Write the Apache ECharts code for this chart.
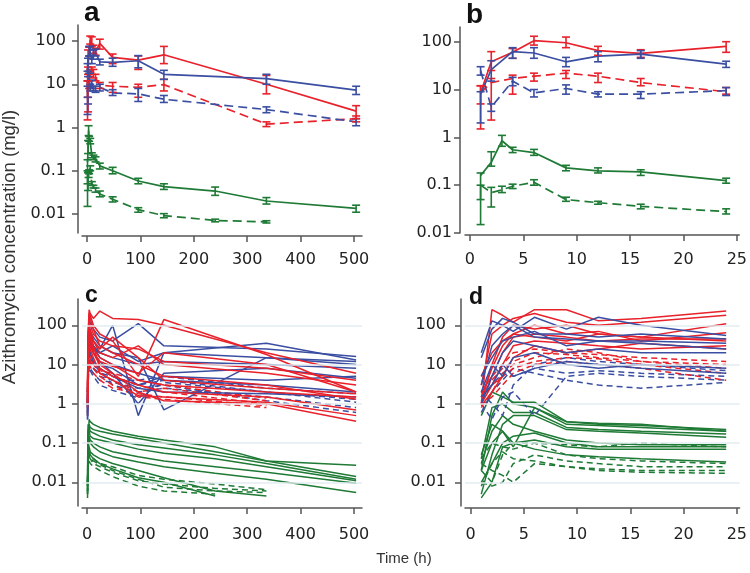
<!DOCTYPE html>
<html><head><meta charset="utf-8">
<script src="https://cdn.jsdelivr.net/npm/echarts@6/dist/echarts.min.js"></script>
<style>html,body{margin:0;padding:0;background:#fff}#c{width:750px;height:573px}</style>
</head><body><div id="c"></div>
<script>
// ---------- tick labels ----------
const logTicks = [0.01, 0.1, 1, 10, 100];
const logTickText = ['0.01', '0.1', '1', '10', '100'];
const xTicksLong = [0, 100, 200, 300, 400, 500];
const xTicksShort = [0, 5, 10, 15, 20, 25];
const panelLetters = ['a', 'b', 'c', 'd'];
const yTitle = 'Azithromycin concentration (mg/l)';
const xTitle = 'Time (h)';

// ---------- panel a : means with error bars (0-504 h) ----------
const aTimeRB = [1, 2, 4, 6, 9, 12, 16, 24, 48, 96, 144, 336, 504];
const aTimeG = [1, 2, 3, 4, 6, 9, 12, 16, 24, 48, 96, 144, 240, 336, 504];
const aTimeGd = [1, 2, 3, 4, 6, 9, 12, 16, 24, 48, 96, 144, 240, 336];
const aRedSolid = [8.5, 38, 60, 105, 95, 65, 57, 88, 42, 36, 48, 10, 2.4];
const aRedSolidLo = [1.5, 25, 45, 85, 75, 52, 47, 65, 30, 22, 30, 6, 1.6];
const aRedSolidHi = [12, 62, 72, 130, 125, 80, 68, 110, 50, 45, 75, 16, 3.2];
const aBlueSolid = [8, 26, 62, 58, 38, 50, 55, 33, 32, 35, 17, 13.5, 7.3];
const aBlueSolidLo = [2, 15, 45, 45, 30, 38, 45, 28, 26, 24, 13, 10, 5.8];
const aBlueSolidHi = [9, 40, 75, 75, 47, 62, 65, 38, 40, 46, 21, 17, 9];
const aRedDash = [8.5, 14, 17, 19, 22, 19, 14, 9.5, 9, 8.5, 9.8, 1.2, 1.6];
const aRedDashLo = [5, 2.3, 8, 15, 17, 14, 12, 8, 6.5, 5, 7, 1.05, 1.35];
const aRedDashHi = [12, 17, 20, 22, 25, 22, 17, 11, 11, 10, 13, 1.35, 1.85];
const aBlueDash = [25, 4.3, 15, 8.5, 10.5, 8, 8, 8.5, 6.3, 6, 4.5, 2.6, 1.35];
const aBlueDashLo = [20, 3.5, 12, 7, 8, 7, 6.5, 7, 5.5, 4, 3.8, 2.2, 1.1];
const aBlueDashHi = [30, 5, 18, 10, 12.5, 9, 9, 10, 7.5, 8, 5.5, 3, 1.6];
const aGreenSolid = [0.16, 0.3, 0.85, 0.55, 0.48, 0.23, 0.2, 0.19, 0.13, 0.1, 0.058, 0.043, 0.034, 0.02, 0.0135];
const aGreenSolidLo = [0.05, 0.25, 0.65, 0.48, 0.42, 0.2, 0.18, 0.16, 0.11, 0.085, 0.05, 0.037, 0.027, 0.017, 0.011];
const aGreenSolidHi = [0.18, 0.5, 1.1, 0.62, 0.56, 0.26, 0.23, 0.21, 0.15, 0.12, 0.067, 0.05, 0.042, 0.024, 0.016];
const aGreenDash = [0.1, 0.07, 0.08, 0.095, 0.115, 0.05, 0.043, 0.036, 0.029, 0.022, 0.0126, 0.0092, 0.0071, 0.0066];
const aGreenDashLo = [0.015, 0.035, 0.07, 0.085, 0.1, 0.046, 0.04, 0.032, 0.025, 0.019, 0.011, 0.0082, 0.0066, 0.0062];
const aGreenDashHi = [0.1, 0.09, 0.095, 0.105, 0.13, 0.056, 0.046, 0.04, 0.034, 0.025, 0.014, 0.0102, 0.0076, 0.007];

// ---------- panel b : means with error bars (0-24 h) ----------
const bTimeRB = [1, 2, 4, 6, 9, 12, 16, 24];
const bTimeG = [1, 2, 3, 4, 6, 9, 12, 16, 24];
const bRedSolid = [8.5, 38, 60, 105, 95, 65, 57, 80];
const bRedSolidLo = [1.5, 25, 45, 85, 75, 52, 47, 60];
const bRedSolidHi = [12, 62, 72, 130, 125, 80, 68, 100];
const bBlueSolid = [8, 26, 62, 58, 38, 50, 55, 34];
const bBlueSolidLo = [2, 15, 45, 45, 30, 38, 45, 29];
const bBlueSolidHi = [9, 40, 75, 75, 47, 62, 65, 39];
const bRedDash = [8.5, 14, 17, 19, 22, 19, 14, 9];
const bRedDashLo = [5, 2.3, 8, 15, 17, 14, 12, 8];
const bRedDashHi = [12, 17, 20, 22, 25, 22, 17, 11];
const bBlueDash = [25, 4.3, 15, 8.5, 10.5, 8, 8, 9.5];
const bBlueDashLo = [20, 3.5, 12, 7, 8, 7, 6.5, 7.5];
const bBlueDashHi = [30, 5, 18, 10, 12.5, 9, 9, 11];
const bGreenSolid = [0.16, 0.3, 0.85, 0.55, 0.48, 0.23, 0.2, 0.19, 0.125];
const bGreenSolidLo = [0.05, 0.25, 0.65, 0.48, 0.42, 0.2, 0.18, 0.16, 0.11];
const bGreenSolidHi = [0.18, 0.5, 1.1, 0.62, 0.56, 0.26, 0.23, 0.21, 0.14];
const bGreenDash = [0.1, 0.07, 0.08, 0.095, 0.115, 0.05, 0.043, 0.036, 0.028];
const bGreenDashLo = [0.015, 0.035, 0.07, 0.085, 0.1, 0.046, 0.04, 0.032, 0.025];
const bGreenDashHi = [0.1, 0.09, 0.095, 0.105, 0.13, 0.056, 0.046, 0.04, 0.032];

// ---------- panel c : individual profiles (0-504 h) ----------
const cTimeRB = [1, 2, 4, 6, 12, 24, 48, 96, 144, 336, 504];
const cTimeG = [1, 2, 4, 6, 12, 24, 48, 96, 144, 240, 336, 504];
const cRedSolid = [
  [2, 60, 250, 200, 150, 230, 150, 140, 100, 20, 6],
  [1, 30, 120, 180, 100, 60, 40, 5, 140, 18, 2],
  [3, 50, 150, 100, 60, 40, 30, 25, 12, 8, 4],
  [1.5, 20, 60, 80, 40, 20, 15, 30, 10, 6, 3],
  [0.8, 10, 50, 40, 25, 15, 10, 4, 3, 2, 1.5],
  [2, 25, 80, 60, 30, 8, 5, 3, 2, 1.5, 0.7],
  [1, 15, 40, 30, 20, 10, 6, 2, 1.2, 1, 0.36],
  [3, 40, 200, 150, 80, 30, 20, 10, 5, 3, 1.3],
  [1, 8, 30, 60, 20, 12, 9, 6, 20, 10, 2],
  [2, 30, 90, 70, 40, 25, 50, 15, 4, 2.5, 1.8],
  [1.2, 12, 35, 25, 15, 6, 4, 1.6, 1.5, 1.1, 0.5]
];
const cRedDash = [
  [1, 10, 30, 20, 12, 8, 5, 3, 2, 1, null],
  [0.5, 5, 15, 12, 8, 5, 3, 1.5, 1.3, 0.8, null],
  [2, 12, 20, 15, 10, 6, 4, 2, 2.5, 1.2, null],
  [0.7, 6, 12, 9, 6, 4, 2.5, 1.8, 1.5, 0.9, null],
  [1.5, 8, 25, 18, 10, 7, 6, 4, 3, 1.4, null]
];
const cBlueSolid = [
  [1, 40, 150, 120, 80, 50, 40, 110, 30, 25, 16],
  [0.5, 20, 80, 60, 40, 25, 100, 0.5, 20, 35, 13],
  [1, 30, 100, 70, 50, 30, 20, 15, 0.7, 15, 12],
  [2, 15, 50, 40, 30, 20, 15, 10, 12, 10, 8],
  [0.4, 10, 40, 30, 20, 10, 8, 3, 5, 4, 5],
  [1, 20, 60, 50, 30, 15, 10, 6, 4, 3, 2],
  [0.6, 8, 25, 20, 12, 8, 5, 2.5, 2, 1.8, 1.5],
  [1, 25, 70, 40, 25, 20, 30, 12, 20, 15, 10],
  [0.8, 12, 45, 35, 20, 12, 6, 1, 6, 8, 4.5]
];
const cBlueDash = [
  [0.5, 5, 15, 12, 8, 6, 5, 3, 4, 2, 1.3],
  [0.8, 8, 20, 15, 10, 7, 3, 2, 2.5, 1.5, 0.8],
  [0.4, 3, 10, 8, 6, 4, 3.5, 2.5, 3, 1.2, 0.6],
  [1, 6, 12, 10, 8, 5, 4, 4, 5, 2.5, 1.8],
  [0.6, 4, 9, 7, 5, 3, 2.2, 1.4, 3.5, 2, 1.1]
];
const cGreenSolid = [
  [0.005, 0.1, 0.4, 0.35, 0.3, 0.25, 0.2, 0.15, 0.12, 0.08, 0.035, 0.027],
  [0.01, 0.2, 0.3, 0.25, 0.22, 0.2, 0.17, 0.13, 0.1, 0.06, 0.035, 0.014],
  [0.008, 0.15, 0.25, 0.2, 0.18, 0.15, 0.12, 0.09, 0.075, 0.05, 0.03, 0.012],
  [0.02, 0.3, 0.2, 0.15, 0.13, 0.12, 0.1, 0.07, 0.055, 0.04, 0.025, 0.011],
  [0.004, 0.08, 0.15, 0.12, 0.1, 0.08, 0.06, 0.045, 0.035, 0.025, 0.018, 0.0095],
  [0.006, 0.1, 0.12, 0.1, 0.08, 0.06, 0.045, 0.033, 0.025, 0.017, 0.012, 0.0055],
  [0.01, 0.1, 0.08, 0.06, 0.05, 0.04, 0.03, 0.02, 0.013, 0.006, 0.0045, null],
  [0.008, 0.08, 0.06, 0.05, 0.04, 0.03, 0.022, 0.013, 0.01, 0.0045, null, null]
];
const cGreenDash = [
  [0.005, 0.05, 0.06, 0.05, 0.04, 0.03, 0.025, 0.015, 0.012, 0.009, 0.0065, null],
  [0.008, 0.04, 0.045, 0.04, 0.03, 0.025, 0.018, 0.011, 0.009, 0.007, 0.006, null],
  [0.006, 0.03, 0.035, 0.03, 0.025, 0.02, 0.014, 0.008, 0.006, 0.005, null, null],
  [0.01, 0.06, 0.05, 0.04, 0.035, 0.028, 0.02, 0.012, 0.0075, 0.006, 0.0055, null]
];

// ---------- panel d : individual profiles (0-24 h) ----------
const dTime = [1, 2, 3, 4, 6, 9, 12, 16, 24];
const dRedSolid = [
  [1, 250, 180, 120, 250, 250, 130, 150, 230],
  [3, 60, 100, 150, 200, 120, 100, 120, 180],
  [1, 10, 50, 100, 80, 100, 60, 50, 110],
  [5, 20, 40, 60, 100, 60, 70, 40, 65],
  [2, 5, 20, 50, 60, 50, 40, 45, 45],
  [1, 3, 10, 30, 40, 35, 30, 25, 30],
  [0.9, 2, 5, 15, 30, 20, 25, 35, 25],
  [1.5, 8, 30, 60, 50, 40, 60, 50, 40]
];
const dRedDash = [
  [1, 5, 10, 20, 25, 20, 18, 15, 12],
  [0.8, 2, 6, 10, 15, 25, 20, 12, 8],
  [1.2, 3, 5, 8, 12, 15, 14, 10, 6],
  [0.9, 1.5, 3, 6, 10, 12, 10, 8, 4],
  [1.5, 4, 8, 12, 20, 18, 15, 12, 10]
];
const dBlueSolid = [
  [20, 130, 100, 70, 160, 80, 160, 100, 55],
  [15, 80, 150, 120, 60, 60, 50, 60, 45],
  [3, 30, 60, 100, 50, 45, 40, 40, 35],
  [5, 15, 40, 50, 70, 30, 40, 35, 25],
  [1, 5, 20, 40, 30, 20, 25, 20, 20],
  [2, 10, 5, 15, 20, 10, 8, 10, 8],
  [1.5, 3, 10, 5, 8, 12, 10, 8, 6]
];
const dBlueDash = [
  [2, 1, 0.5, 3, 10, 15, 12, 10, 7],
  [1, 0.4, 1.5, 2, 0.5, 5, 6, 5, 4],
  [0.6, 2, 4, 8, 6, 4, 3, 2.5, 3.5],
  [1.5, 3, 6, 5, 8, 6, 7, 6, 5]
];
const dGreenSolid = [
  [0.5, 2, 1.5, 1.1, 1.1, 0.35, 0.3, 0.28, 0.22],
  [0.02, 0.5, 2, 1, 0.8, 0.3, 0.28, 0.25, 0.2],
  [0.04, 0.8, 1, 0.6, 0.6, 0.25, 0.22, 0.2, 0.17],
  [0.005, 0.05, 0.3, 0.5, 0.5, 0.22, 0.2, 0.18, 0.14],
  [0.03, 0.2, 0.5, 0.3, 0.2, 0.12, 0.1, 0.09, 0.09],
  [0.01, 0.03, 0.1, 0.15, 0.18, 0.1, 0.08, 0.08, 0.08],
  [0.004, 0.01, 0.08, 0.1, 0.12, 0.08, 0.07, 0.07, 0.07],
  [0.05, 0.3, 0.2, 0.1, 0.07, 0.05, 0.045, 0.04, 0.033],
  [0.02, 0.1, 0.2, 0.08, 0.8, 0.35, 0.32, 0.3, 0.2]
];
const dGreenDash = [
  [0.02, 0.01, 0.05, 0.1, 0.1, 0.05, 0.04, 0.035, 0.03],
  [0.01, 0.008, 0.01, 0.03, 0.05, 0.035, 0.03, 0.025, 0.025],
  [0.03, 0.02, 0.015, 0.01, 0.03, 0.025, 0.022, 0.02, 0.02],
  [0.008, 0.03, 0.06, 0.04, 0.035, 0.025, 0.02, 0.018, 0.017],
  [0.04, 0.1, 0.08, 0.07, 0.1, 0.09, 0.08, 0.1, 0.08]
];

// ---------- styling ----------
const RED = '#e8212b', BLUE = '#3a4ea2', GREEN = '#1e7a35';
const AXIS_COLOR = '#555';
const LABEL_FONT = 'DejaVu Sans';

const gridBoxes = [
  {left: 82, top: 25, width: 280, height: 208},
  {left: 465, top: 27, width: 277, height: 206},
  {left: 82, top: 299, width: 280, height: 207},
  {left: 465, top: 299, width: 277, height: 207}
];
const xRanges = [[-9.36, 515], [-0.46, 25.23], [-9.36, 515], [-0.53, 25.26]];
const yRanges = [[0.00364, 234.5], [0.01, 203], [0.00249, 468], [0.00249, 468]];
const yOffsets = [4, 5, 4, 4];
const xOffsets = [3, 2, 2, 2];
const yLabelMargins = [12, 8, 11, 15];
const xLabelMargins = [16, 17, 19, 19];

function fmtLog(v) {
  const k = Math.round(Math.log10(v)) + 2;
  return logTickText[k];
}

const xAxes = gridBoxes.map((g, i) => {
  const ticks = (i % 2 === 0) ? xTicksLong : xTicksShort;
  return {
    type: 'value', gridIndex: i, min: xRanges[i][0], max: xRanges[i][1],
    position: 'bottom', offset: xOffsets[i],
    axisLine: {show: true, onZero: false, lineStyle: {color: AXIS_COLOR, width: 1.5}},
    axisTick: {show: true, length: 6, lineStyle: {color: AXIS_COLOR, width: 1.5}, customValues: ticks},
    axisLabel: {customValues: ticks, margin: xLabelMargins[i], fontFamily: LABEL_FONT, fontSize: 16, color: '#222'},
    splitLine: {show: false}
  };
});
const yAxes = gridBoxes.map((g, i) => ({
  type: 'log', logBase: 10, gridIndex: i, min: yRanges[i][0], max: yRanges[i][1],
  position: 'left', offset: yOffsets[i],
  axisLine: {show: true, onZero: false, lineStyle: {color: AXIS_COLOR, width: 1.5}},
  axisTick: {show: true, length: 6, lineStyle: {color: AXIS_COLOR, width: 1.5}, customValues: logTicks},
  axisLabel: {customValues: logTicks, formatter: fmtLog, margin: yLabelMargins[i], fontFamily: LABEL_FONT, fontSize: 16, color: '#222'},
  splitLine: {show: false}, minorTick: {show: false}
}));

const series = [];

function addMean(gi, times, mean, lo, hi, color, dashed) {
  series.push({
    type: 'line', xAxisIndex: gi, yAxisIndex: gi, z: 3,
    data: times.map((t, i) => [t, mean[i]]),
    showSymbol: false, symbol: 'none', silent: true, animation: false,
    lineStyle: {color: color, width: 1.7, type: dashed ? [9, 5] : 'solid'}
  });
  series.push({
    type: 'custom', xAxisIndex: gi, yAxisIndex: gi, z: 4, silent: true, animation: false,
    data: times.map((t, i) => [t, lo[i], hi[i]]),
    encode: {x: 0, y: [1, 2]},
    renderItem: function (params, api) {
      const x = api.value(0);
      const p1 = api.coord([x, api.value(1)]);
      const p2 = api.coord([x, api.value(2)]);
      const w = 4;
      const st = {stroke: color, lineWidth: 1.6};
      return {type: 'group', children: [
        {type: 'line', shape: {x1: p1[0], y1: p1[1], x2: p2[0], y2: p2[1]}, style: st},
        {type: 'line', shape: {x1: p1[0] - w, y1: p1[1], x2: p1[0] + w, y2: p1[1]}, style: st},
        {type: 'line', shape: {x1: p2[0] - w, y1: p2[1], x2: p2[0] + w, y2: p2[1]}, style: st}
      ]};
    }
  });
}

function addIndiv(gi, times, rows, color, dashed) {
  rows.forEach(r => {
    series.push({
      type: 'line', xAxisIndex: gi, yAxisIndex: gi, z: 3,
      data: times.map((t, i) => [t, r[i]]).filter(p => p[1] != null),
      showSymbol: false, symbol: 'none', silent: true, animation: false,
      lineStyle: {color: color, width: 1.5, type: dashed ? [6, 4] : 'solid'}
    });
  });
}

// grid lines for panels c and d
[2, 3].forEach(gi => {
  series.push({
    type: 'line', xAxisIndex: gi, yAxisIndex: gi, z: 1, data: [], silent: true, animation: false,
    markLine: {
      silent: true, symbol: 'none', label: {show: false}, animation: false,
      lineStyle: {color: '#e2ecf1', width: 1.5, type: 'solid'},
      data: logTicks.map(v => ({yAxis: v}))
    }
  });
});

// panel a
addMean(0, aTimeG, aGreenSolid, aGreenSolidLo, aGreenSolidHi, GREEN, false);
addMean(0, aTimeGd, aGreenDash, aGreenDashLo, aGreenDashHi, GREEN, true);
addMean(0, aTimeRB, aRedDash, aRedDashLo, aRedDashHi, RED, true);
addMean(0, aTimeRB, aBlueDash, aBlueDashLo, aBlueDashHi, BLUE, true);
addMean(0, aTimeRB, aRedSolid, aRedSolidLo, aRedSolidHi, RED, false);
addMean(0, aTimeRB, aBlueSolid, aBlueSolidLo, aBlueSolidHi, BLUE, false);
// panel b
addMean(1, bTimeG, bGreenSolid, bGreenSolidLo, bGreenSolidHi, GREEN, false);
addMean(1, bTimeG, bGreenDash, bGreenDashLo, bGreenDashHi, GREEN, true);
addMean(1, bTimeRB, bRedDash, bRedDashLo, bRedDashHi, RED, true);
addMean(1, bTimeRB, bBlueDash, bBlueDashLo, bBlueDashHi, BLUE, true);
addMean(1, bTimeRB, bRedSolid, bRedSolidLo, bRedSolidHi, RED, false);
addMean(1, bTimeRB, bBlueSolid, bBlueSolidLo, bBlueSolidHi, BLUE, false);
// panel c
addIndiv(2, cTimeG, cGreenDash, GREEN, true);
addIndiv(2, cTimeG, cGreenSolid, GREEN, false);
addIndiv(2, cTimeRB, cBlueDash, BLUE, true);
addIndiv(2, cTimeRB, cRedDash, RED, true);
addIndiv(2, cTimeRB, cBlueSolid, BLUE, false);
addIndiv(2, cTimeRB, cRedSolid, RED, false);
// panel d
addIndiv(3, dTime, dGreenDash, GREEN, true);
addIndiv(3, dTime, dGreenSolid, GREEN, false);
addIndiv(3, dTime, dBlueDash, BLUE, true);
addIndiv(3, dTime, dRedDash, RED, true);
addIndiv(3, dTime, dRedSolid, RED, false);
addIndiv(3, dTime, dBlueSolid, BLUE, false);

const letterPos = [[84, 13.5, 28], [466, 15, 28], [85, 296, 23], [469, 298, 23]];
const graphics = panelLetters.map((L, i) => ({
  type: 'text', x: letterPos[i][0], y: letterPos[i][1], silent: true,
  style: {text: L, fontFamily: 'Liberation Sans', fontWeight: 'bold', fontSize: letterPos[i][2], fill: '#111', align: 'left', verticalAlign: 'middle'}
}));
graphics.push({
  type: 'text', x: 10, y: 247, rotation: Math.PI / 2, silent: true,
  style: {text: yTitle, fontFamily: 'Liberation Sans', fontSize: 18.5, fill: '#333', align: 'center', verticalAlign: 'middle'}
});
graphics.push({
  type: 'text', x: 404, y: 559, silent: true,
  style: {text: xTitle, fontFamily: 'Liberation Sans', fontSize: 15, fill: '#333', align: 'center', verticalAlign: 'middle'}
});

const chart = echarts.init(document.getElementById('c'), null, {renderer: 'canvas'});
chart.setOption({
  animation: false,
  backgroundColor: '#fff',
  grid: gridBoxes.map(g => Object.assign({containLabel: false}, g)),
  xAxis: xAxes,
  yAxis: yAxes,
  series: series,
  graphic: graphics
});
</script></body></html>
